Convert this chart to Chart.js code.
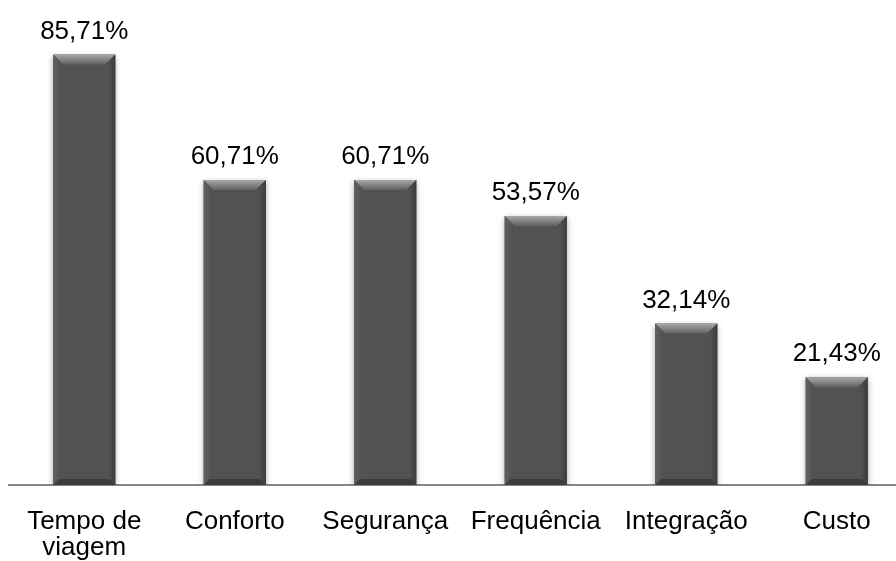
<!DOCTYPE html>
<html>
<head>
<meta charset="utf-8">
<script src="https://cdn.jsdelivr.net/npm/chart.js@4/dist/chart.umd.min.js"></script>
<style>
  html, body { margin: 0; padding: 0; background: #fff; overflow: hidden; width: 896px; height: 561px; }
  #wrap { position: absolute; left: 0; top: 0; width: 912px; height: 561px; }
</style>
</head>
<body>
<div id="wrap"><canvas id="chart" width="912" height="561"></canvas></div>
<script>
/* --------- データ --------- */
const categories = [["Tempo de", "viagem"], "Conforto", "Segurança", "Frequência", "Integração", "Custo"];
const percents = [85.71, 60.71, 60.71, 53.57, 32.14, 21.43];

const FONT = "'Liberation Sans', Arial, sans-serif";

// 値ラベル（85,71% 形式）
const fmt = (v) => v.toFixed(2).replace(".", ",") + "%";

/* --------- 立体風バー --------- */
const bevelBars = {
  id: "bevelBars",
  afterDatasetsDraw(chart) {
    const ctx = chart.ctx;
    chart.getDatasetMeta(0).data.forEach((bar, i) => {
      const l = bar.x - bar.width / 2, r = bar.x + bar.width / 2;
      const t = bar.y, b = bar.base;
      const e = 6, et = 10;
      ctx.save();
      // 上面
      let g = ctx.createLinearGradient(0, t, 0, t + et);
      g.addColorStop(0, "#a8a8a8");
      g.addColorStop(1, "#606060");
      ctx.fillStyle = g;
      ctx.beginPath();
      ctx.moveTo(l, t); ctx.lineTo(r, t); ctx.lineTo(r - et, t + et); ctx.lineTo(l + et, t + et);
      ctx.closePath(); ctx.fill();
      // 左右
      g = ctx.createLinearGradient(l, 0, l + e, 0);
      g.addColorStop(0, "#606060");
      g.addColorStop(1, "#565656");
      ctx.fillStyle = g;
      ctx.beginPath();
      ctx.moveTo(l, t); ctx.lineTo(l + et, t + et); ctx.lineTo(l + e, t + et); ctx.lineTo(l + e, b - e); ctx.lineTo(l, b);
      ctx.closePath(); ctx.fill();
      g = ctx.createLinearGradient(r, 0, r - e, 0);
      g.addColorStop(0, "#3c3c3c");
      g.addColorStop(1, "#4e4e4e");
      ctx.fillStyle = g;
      ctx.beginPath();
      ctx.moveTo(r, t); ctx.lineTo(r - et, t + et); ctx.lineTo(r - e, t + et); ctx.lineTo(r - e, b - e); ctx.lineTo(r, b);
      ctx.closePath(); ctx.fill();
      // 下面
      ctx.fillStyle = "#3c3c3c";
      ctx.beginPath();
      ctx.moveTo(l, b); ctx.lineTo(r, b); ctx.lineTo(r - e, b - e); ctx.lineTo(l + e, b - e);
      ctx.closePath(); ctx.fill();
      // 値ラベル
      ctx.fillStyle = "#000";
      ctx.font = "26px " + FONT;
      ctx.textAlign = "center";
      ctx.textBaseline = "alphabetic";
      ctx.fillText(fmt(percents[i]), bar.x, t - 16);
      ctx.restore();
    });
  },
};

// バーの影
const barShadow = {
  id: "barShadow",
  beforeDatasetsDraw(chart) {
    const ctx = chart.ctx;
    ctx.save();
    ctx.shadowColor = "rgba(0,0,0,0.35)";
    ctx.shadowBlur = 6;
    ctx.shadowOffsetX = 0;
    ctx.shadowOffsetY = 2;
  },
  afterDatasetsDraw(chart) {
    chart.ctx.restore();
  },
};

new Chart(document.getElementById("chart"), {
  type: "bar",
  data: {
    labels: categories,
    datasets: [{
      data: percents,
      backgroundColor: "#525252",
      borderWidth: 0,
      categoryPercentage: 1,
      barPercentage: 0.413,
    }],
  },
  options: {
    responsive: false,
    animation: false,
    layout: { padding: { top: 33, left: 9, right: 0, bottom: 0 } },
    plugins: { legend: { display: false }, tooltip: { enabled: false } },
    scales: {
      x: {
        grid: { display: false },
        border: { display: true, color: "#868686", width: 2 },
        ticks: {
          color: "#000",
          font: { family: FONT, size: 26, lineHeight: 1.0 },
          padding: 16,
          maxRotation: 0,
          autoSkip: false,
        },
        afterFit(s) { s.height = 76; },
      },
      y: { display: false, min: 0, max: 90 },
    },
  },
  plugins: [barShadow, bevelBars],
});
</script>
</body>
</html>
